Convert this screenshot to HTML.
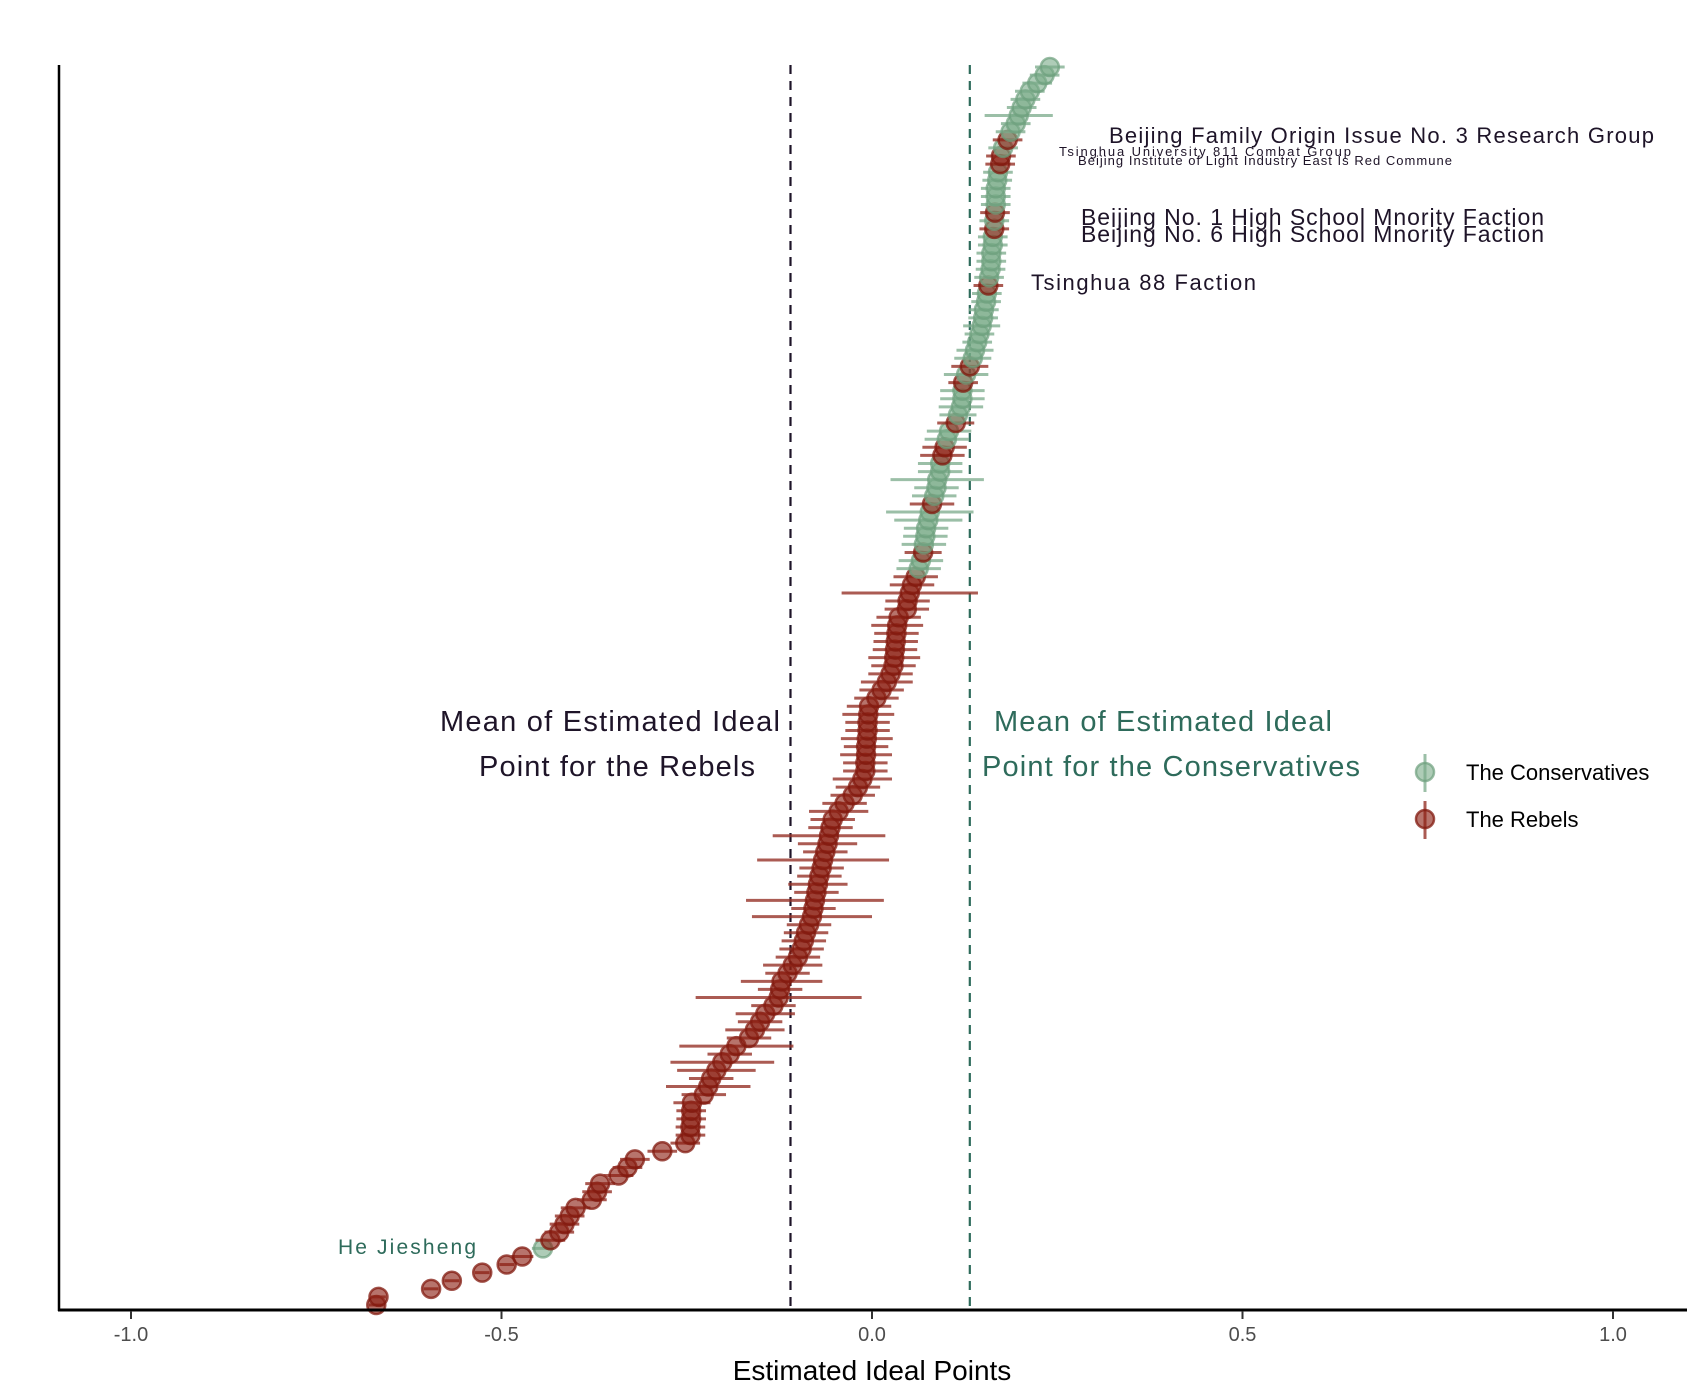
<!DOCTYPE html>
<html><head><meta charset="utf-8"><style>
body{margin:0;background:#fff}
svg{display:block;font-family:"Liberation Sans",sans-serif}
</style></head><body>
<svg id="chart" width="1700" height="1400" viewBox="0 0 1700 1400">
<g id="marks"></g>
<g id="axes"></g>
</svg>
<script>
const values=[-0.669,-0.666,-0.595,-0.567,-0.526,-0.493,-0.472,-0.444,-0.434,-0.422,-0.415,-0.408,-0.400,-0.378,-0.371,-0.367,-0.342,-0.330,-0.320,-0.283,-0.252,-0.245,-0.245,-0.244,-0.244,-0.243,-0.227,-0.221,-0.217,-0.210,-0.202,-0.192,-0.183,-0.166,-0.158,-0.151,-0.144,-0.133,-0.126,-0.124,-0.122,-0.114,-0.107,-0.100,-0.095,-0.092,-0.089,-0.085,-0.081,-0.079,-0.077,-0.075,-0.073,-0.071,-0.068,-0.066,-0.063,-0.060,-0.058,-0.056,-0.053,-0.045,-0.037,-0.026,-0.019,-0.013,-0.009,-0.009,-0.008,-0.008,-0.007,-0.006,-0.006,-0.005,-0.004,0.006,0.013,0.020,0.025,0.029,0.030,0.031,0.032,0.033,0.034,0.036,0.047,0.048,0.051,0.054,0.059,0.063,0.066,0.069,0.070,0.072,0.073,0.076,0.078,0.081,0.084,0.087,0.088,0.092,0.092,0.095,0.098,0.101,0.104,0.113,0.116,0.120,0.122,0.122,0.123,0.127,0.132,0.136,0.139,0.142,0.145,0.148,0.150,0.151,0.154,0.155,0.157,0.158,0.160,0.161,0.161,0.163,0.163,0.165,0.165,0.166,0.167,0.167,0.167,0.169,0.170,0.173,0.174,0.177,0.183,0.187,0.194,0.198,0.202,0.207,0.213,0.223,0.233,0.240];
const groups="RRRRRRRCRRRRRRRRRRRRRRRRRRRRRRRRRRRRRRRRRRRRRRRRRRRRRRRRRRRRRRRRRRRRRRRRRRRRRRRRRRRRRRRRRRRCCRCCCCCRCCCCCRRCCRCCCCRCRCCCCCCCCCRCCCCCCRCRCCCCCRRCRCCCCCCCCC";
const errors=[0.01,0.01,0.01,0.01,0.01,0.01,0.015,0.015,0.02,0.02,0.02,0.02,0.02,0.02,0.02,0.02,0.02,0.02,0.02,0.02,0.02,0.02,0.02,0.02,0.02,0.025,0.03,0.057,0.03,0.053,0.07,0.03,0.077,0.03,0.04,0.03,0.04,0.03,0.112,0.03,0.055,0.03,0.04,0.03,0.03,0.03,0.03,0.03,0.081,0.03,0.093,0.03,0.04,0.03,0.03,0.089,0.03,0.04,0.076,0.03,0.03,0.04,0.03,0.03,0.03,0.04,0.03,0.03,0.035,0.03,0.035,0.03,0.03,0.035,0.03,0.03,0.03,0.035,0.03,0.03,0.035,0.03,0.03,0.03,0.035,0.03,0.03,0.03,0.092,0.03,0.03,0.03,0.03,0.025,0.03,0.03,0.03,0.046,0.059,0.03,0.03,0.03,0.063,0.03,0.03,0.03,0.03,0.03,0.03,0.025,0.025,0.03,0.03,0.03,0.02,0.03,0.025,0.025,0.025,0.02,0.02,0.025,0.02,0.02,0.02,0.02,0.02,0.02,0.02,0.02,0.02,0.02,0.02,0.02,0.02,0.02,0.02,0.02,0.02,0.02,0.02,0.02,0.02,0.02,0.02,0.02,0.02,0.046,0.02,0.02,0.02,0.02,0.02,0.02];
const xTicks=[-1.0,-0.5,0.0,0.5,1.0];
const xTickLabels=["-1.0","-0.5","0.0","0.5","1.0"];
const groupMeans=[-0.110,0.132];

const NS="http://www.w3.org/2000/svg";
const X=v=>872+741*v;
const Y=i=>1305-i*(1238/(values.length-1));
const col={R:{f:"rgba(139,30,18,0.62)",s:"rgba(130,25,15,0.75)",e:"rgba(150,50,40,0.8)"},C:{f:"rgba(120,170,135,0.6)",s:"rgba(110,160,125,0.7)",e:"rgba(130,175,145,0.8)"}};
function mk(tag,attrs,parent){const e=document.createElementNS(NS,tag);for(const k in attrs)e.setAttribute(k,attrs[k]);parent.appendChild(e);return e;}
const marks=document.getElementById('marks');
const axes=document.getElementById('axes');

const mcols=["#1e1428","#2e6b5b"];
groupMeans.forEach((m,k)=>{
  const l=mk('line',{x1:X(m),x2:X(m),y1:65,y2:1310,stroke:mcols[k],'stroke-width':2.2,'stroke-dasharray':'9 7'},marks);
  
  
});

values.forEach((v,i)=>{
  const g=groups[i]||'R';const c=col[g];const y=Y(i);
  const e=mk('line',{x1:X(v-errors[i]),x2:X(v+errors[i]),y1:y,y2:y,stroke:c.e,'stroke-width':3},marks);
  
  
  const p=mk('circle',{cx:X(v),cy:y,r:9,fill:c.f,stroke:c.s,'stroke-width':2.5},marks);
  
  
});

let a=mk('line',{x1:59,x2:59,y1:65,y2:1311,stroke:'#000','stroke-width':2.5},axes);

a=mk('line',{x1:58,x2:1687,y1:1310,y2:1310,stroke:'#000','stroke-width':3},axes);

xTicks.forEach((t,k)=>{
  const tk=mk('line',{x1:X(t),x2:X(t),y1:1311,y2:1319,stroke:'#333','stroke-width':2},axes);
  
  
  const tl=mk('text',{x:X(t),y:1341,'text-anchor':'middle','font-size':20,fill:'#4d4d4d'},axes);
  tl.textContent=xTickLabels[k];
  
  
});
</script>
<svg width="1700" height="1400" style="position:absolute;left:0;top:0">
<g font-family="Liberation Sans, sans-serif">
<text x="872" y="1380" text-anchor="middle" font-size="28" fill="#000">Estimated Ideal Points</text>
<text x="610" y="731" text-anchor="middle" font-size="29" fill="#1e1428" textLength="340">Mean of Estimated Ideal</text>
<text x="617" y="776" text-anchor="middle" font-size="29" fill="#1e1428" textLength="276">Point for the Rebels</text>
<text x="1163" y="731" text-anchor="middle" font-size="29" fill="#2e6b5b" textLength="338">Mean of Estimated Ideal</text>
<text x="1171" y="776" text-anchor="middle" font-size="29" fill="#2e6b5b" textLength="378">Point for the Conservatives</text>
<g fill="#1e1428">
<text x="1109" y="143" font-size="22" textLength="545">Beijing Family Origin Issue No. 3 Research Group</text>
<text x="1059" y="156" font-size="13" textLength="292">Tsinghua University 811 Combat Group</text>
<text x="1078" y="165" font-size="13" textLength="374">Beijing Institute of Light Industry East Is Red Commune</text>
<text x="1081" y="225" font-size="23" textLength="463">Beijing No. 1 High School Mnority Faction</text>
<text x="1081" y="242" font-size="23" textLength="463">Beijing No. 6 High School Mnority Faction</text>
<text x="1031" y="290" font-size="22" textLength="225">Tsinghua 88 Faction</text>
</g>
<text x="338" y="1254" font-size="21" fill="#2e6b5b" textLength="138">He Jiesheng</text>
<g>
<line x1="1425" y1="754" x2="1425" y2="792" stroke="rgba(130,175,145,0.8)" stroke-width="3"/>
<circle cx="1425" cy="772" r="9" fill="rgba(120,170,135,0.6)" stroke="rgba(110,160,125,0.7)" stroke-width="2.5"/>
<text x="1466" y="780" font-size="22" fill="#000">The Conservatives</text>
<line x1="1425" y1="801" x2="1425" y2="839" stroke="rgba(150,50,40,0.8)" stroke-width="3"/>
<circle cx="1425" cy="819" r="9" fill="rgba(139,30,18,0.62)" stroke="rgba(130,25,15,0.75)" stroke-width="2.5"/>
<text x="1466" y="827" font-size="22" fill="#000">The Rebels</text>
</g>
</g>
</svg>
</body></html>
